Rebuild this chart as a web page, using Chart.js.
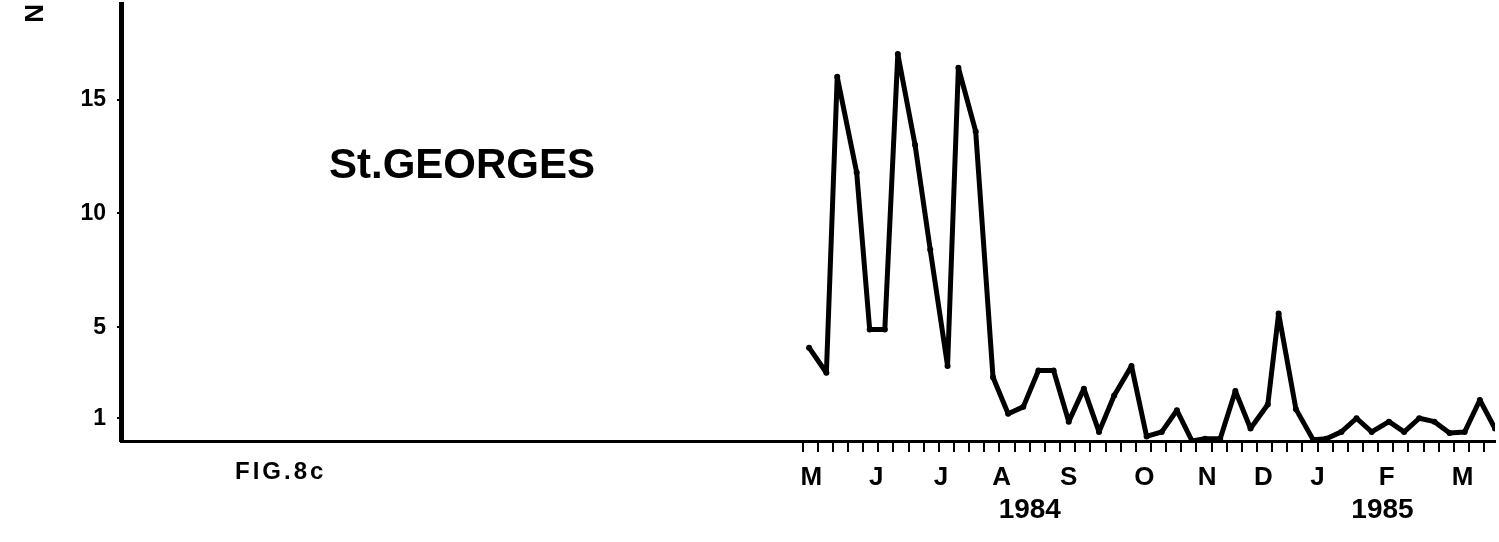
<!DOCTYPE html>
<html>
<head>
<meta charset="utf-8">
<title>St.GEORGES</title>
<script src="https://cdn.jsdelivr.net/npm/chart.js@4.4.1/dist/chart.umd.min.js"></script>
<style>
  html, body { margin: 0; padding: 0; background: #fff; }
  canvas { display: block; }
</style>
</head>
<body>
<canvas id="fig" width="1499" height="542"></canvas>
<script>
// weekly counts at St. Georges, May 1984 - March 1985
// x = days from the first weekly tick
const SAMPLE_DAY = [3, 11, 16, 25, 31, 38, 44, 52, 59, 67, 72, 80, 88, 95, 102, 109,
  116, 123, 130, 137, 144, 152, 159, 166, 173, 180, 186, 193, 200, 207, 215, 220,
  228, 236, 242, 249, 256, 263, 271, 278, 285, 292, 299, 306, 313, 320];
const COUNT = [4.1, 3.0, 16.0, 11.8, 4.9, 4.9, 17.0, 13.0, 8.4, 3.3, 16.4, 13.6, 2.8, 1.2, 1.5, 3.1,
  3.1, 0.85, 2.3, 0.4, 2.0, 3.3, 0.2, 0.4, 1.35, 0.0, 0.1, 0.1, 2.2, 0.55, 1.6, 5.6,
  1.4, 0.05, 0.1, 0.4, 1.0, 0.4, 0.85, 0.4, 1.0, 0.85, 0.35, 0.4, 1.8, 0.55];

const Y_TICKS = [1, 5, 10, 15];
const MONTHS = ["M", "J", "J", "A", "S", "O", "N", "D", "J", "F", "M"];
const MONTH_DAY = [4, 34, 64, 92, 123, 158, 187, 213, 238, 270, 305];
const YEARS = ["1984", "1985"];
const YEAR_DAY = [105, 268];
const WEEK_TICKS = Array.from({ length: 46 }, (_, i) => i * 7);

const X_MIN = -315, X_MAX = 320;
const FONT = "'Liberation Sans', Arial, sans-serif";
const INK = "#000";

const setTicks = (vals) => (s) => { s.ticks = vals.map((v) => ({ value: v })); };
// fixed box size, no extra room reserved for edge labels
const fixSize = (prop, px) => (s) => {
  s[prop] = px;
  s.paddingTop = s.paddingBottom = s.paddingLeft = s.paddingRight = 0;
};

// free text on the figure: station name and figure number
const figText = {
  id: "figText",
  afterDraw(chart) {
    const ctx = chart.ctx;
    ctx.save();
    ctx.fillStyle = INK;
    ctx.textBaseline = "alphabetic";
    ctx.font = `bold 42px ${FONT}`;
    ctx.fillText("St.GEORGES", 329, 178);
    ctx.font = `bold 24px ${FONT}`;
    ctx.letterSpacing = "3px";
    ctx.fillText("FIG.8c", 235, 479);
    ctx.restore();
  },
};

const labelAxis = (days, names, size, height, padding, weight) => ({
  type: "linear", min: X_MIN, max: X_MAX, position: "bottom", weight,
  afterBuildTicks: setTicks(days),
  afterFit: fixSize("height", height),
  ticks: {
    autoSkip: false, maxRotation: 0, padding, color: INK,
    font: { family: FONT, size, weight: "bold", lineHeight: 1 },
    callback: (v, i) => names[i],
  },
  grid: { display: false, drawTicks: false }, border: { display: false },
});

new Chart(document.getElementById("fig"), {
  type: "line",
  data: {
    datasets: [{
      data: SAMPLE_DAY.map((d, i) => ({ x: d, y: COUNT[i] })),
      borderColor: INK, borderWidth: 5, tension: 0,
      borderJoinStyle: "round", borderCapStyle: "round",
      pointRadius: 3, pointBackgroundColor: INK, pointBorderWidth: 0,
    }],
  },
  options: {
    responsive: false, animation: false, devicePixelRatio: 1,
    layout: { padding: 0 },
    plugins: { legend: { display: false }, tooltip: { enabled: false } },
    scales: {
      x: {
        type: "linear", min: X_MIN, max: X_MAX, position: "bottom", weight: 0,
        afterBuildTicks: setTicks(WEEK_TICKS),
        afterFit: fixSize("height", 12),
        ticks: { display: false },
        grid: { drawOnChartArea: false, tickLength: 11, lineWidth: 2, color: INK },
        border: { color: INK, width: 3 },
      },
      months: labelAxis(MONTH_DAY, MONTHS, 26, 43, 12, 1),
      years: labelAxis(YEAR_DAY, YEARS, 28, 46, 0, 2),
      y: {
        min: 0, max: 19.2,
        afterBuildTicks: setTicks(Y_TICKS),
        afterFit: fixSize("width", 121),
        ticks: {
          padding: 11, color: INK,
          font: { family: FONT, size: 23, weight: "bold" },
        },
        grid: { drawOnChartArea: false, tickLength: 4, lineWidth: 2, color: INK },
        border: { color: INK, width: 5 },
        title: {
          display: true, text: "N", align: "end", color: INK, padding: { top: 20 },
          font: { family: FONT, size: 26, weight: "bold" },
        },
      },
    },
  },
  plugins: [figText],
});
</script>
</body>
</html>
